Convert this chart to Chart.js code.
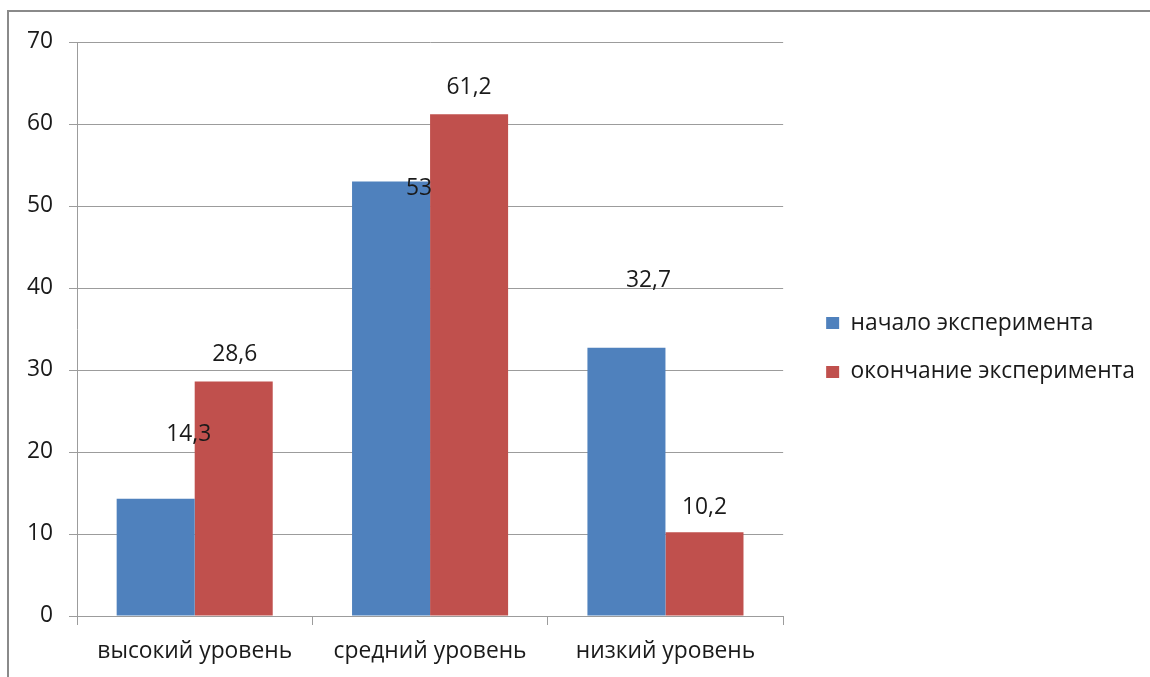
<!DOCTYPE html>
<html>
<head>
<meta charset="utf-8">
<script src="https://cdn.jsdelivr.net/npm/chart.js@4/dist/chart.umd.min.js"></script>
<style>
  html, body { margin: 0; padding: 0; background: #fff; }
  #wrap { position: relative; width: 1150px; height: 677px; overflow: hidden; }
  #frame { position: absolute; left: 7px; top: 10px; width: 2000px; height: 2000px;
           border-left: 2px solid #8a8a8a; border-top: 2px solid #8a8a8a; pointer-events: none; }
  canvas { position: absolute; left: 0; top: 0; }
</style>
</head>
<body>
<div id="wrap">
  <canvas id="chart" width="1150" height="677"></canvas>
  <div id="frame"></div>
</div>
<script>
// ---- data ----
const categories = ['высокий уровень', 'средний уровень', 'низкий уровень'];
const seriesNames = ['начало эксперимента', 'окончание эксперимента'];
const startValues = [14.3, 53, 32.7];
const endValues = [28.6, 61.2, 10.2];
const yTicks = [0, 10, 20, 30, 40, 50, 60, 70];

// ---- styling / label placement (pixels relative to bar top centre) ----
const COLORS = ['#4F81BD', '#C0504D'];
const FONT = { family: "'Open Sans', 'Noto Sans', sans-serif", size: 22.8 };
const TEXT = '#1a1a1a';
const GRID = '#9c9c9c';
const labelOffsets = [
  [[33, -64], [28, 7], [22, -67]],
  [[1, -27], [0, -27], [0, -25]]
];

const dataLabels = {
  id: 'dataLabels',
  afterDatasetsDraw(chart) {
    const ctx = chart.ctx;
    ctx.save();
    ctx.font = `${FONT.size}px ${FONT.family}`;
    ctx.fillStyle = TEXT;
    ctx.textAlign = 'center';
    ctx.textBaseline = 'middle';
    chart.data.datasets.forEach((ds, di) => {
      chart.getDatasetMeta(di).data.forEach((bar, i) => {
        const [dx, dy] = labelOffsets[di][i];
        const txt = String(ds.data[i]).replace('.', ',');
        ctx.fillText(txt, bar.x + dx, bar.y + dy);
      });
    });
    ctx.restore();
  }
};

new Chart(document.getElementById('chart'), {
  type: 'bar',
  data: {
    labels: categories,
    datasets: [
      { label: seriesNames[0], data: startValues, backgroundColor: COLORS[0], borderWidth: 0,
        categoryPercentage: 0.663, barPercentage: 1.0 },
      { label: seriesNames[1], data: endValues, backgroundColor: COLORS[1], borderWidth: 0,
        categoryPercentage: 0.663, barPercentage: 1.0 }
    ]
  },
  options: {
    responsive: false,
    animation: false,
    layout: { padding: { top: 42, left: 0, right: 5, bottom: 0 } },
    plugins: {
      tooltip: { enabled: false },
      legend: {
        position: 'right',
        align: 'center',
        fullSize: false,
        maxWidth: 345,
        title: { display: true, text: '', font: { size: 10 }, padding: { top: 12.5, bottom: 12.5 } },
        labels: {
          font: FONT, color: TEXT,
          boxWidth: 13, boxHeight: 12, padding: 26
        }
      }
    },
    scales: {
      x: {
        grid: { display: true, drawOnChartArea: false, drawTicks: true, tickLength: 9, color: GRID, offset: true },
        border: { display: true, color: GRID, width: 1 },
        ticks: { font: FONT, color: TEXT, padding: 13, maxRotation: 0 },
        afterFit: s => { s.height = 61; }
      },
      y: {
        min: 0, max: 70,
        afterBuildTicks: s => { s.ticks = yTicks.map(v => ({ value: v })); },
        grid: { color: GRID, tickLength: 8, drawTicks: true },
        border: { display: true, color: GRID, width: 1 },
        ticks: { font: FONT, color: TEXT, padding: 16 },
        afterFit: s => { s.width = 77; }
      },
      gap: {
        type: 'linear', position: 'right', display: true,
        grid: { display: false }, border: { display: false },
        ticks: { display: false },
        afterFit: s => { s.width = 17; }
      }
    }
  },
  plugins: [dataLabels]
});
</script>
</body>
</html>
